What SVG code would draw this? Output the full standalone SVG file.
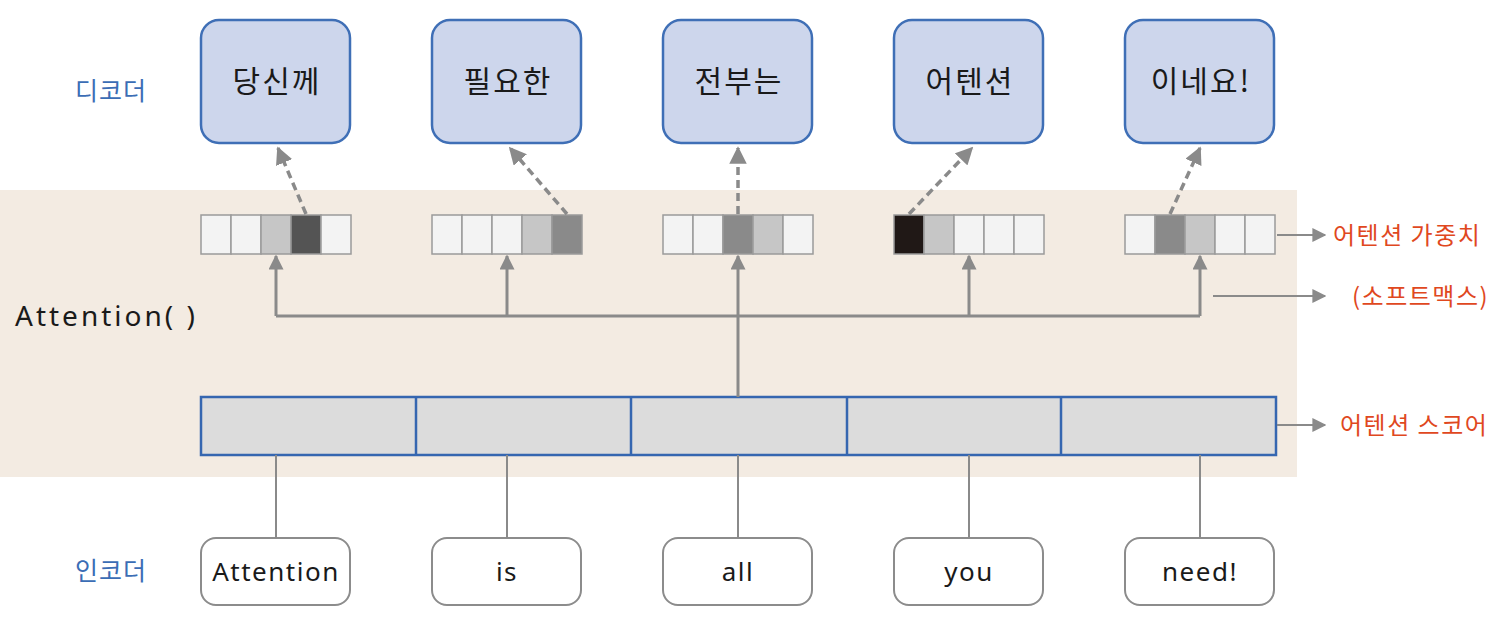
<svg xmlns="http://www.w3.org/2000/svg" width="1498" height="620" viewBox="0 0 1498 620">
<defs>
<marker id="ah" viewBox="0 0 10 10" refX="9" refY="5" markerWidth="5" markerHeight="5" orient="auto" markerUnits="strokeWidth"><path d="M0,0 L10,5 L0,10 z" fill="#8a8a8a"/></marker>
<marker id="ahs" viewBox="0 0 10 10" refX="9" refY="5" markerWidth="7" markerHeight="7" orient="auto" markerUnits="strokeWidth"><path d="M0,0 L10,5 L0,10 z" fill="#8a8a8a"/></marker>
</defs>
<style>
.dec rect{fill:#cdd6ec;stroke:#3f6fb6;stroke-width:2.5}
.enc rect{fill:#ffffff;stroke:#8c8c8c;stroke-width:2}
.kt{font-family:"Noto Sans CJK KR","Noto Sans",sans-serif;font-size:30px;letter-spacing:2px;fill:#1a1a1a;text-anchor:middle}
.et{font-family:"Noto Sans","Noto Sans CJK KR",sans-serif;font-size:26px;letter-spacing:1.5px;fill:#1a1a1a;text-anchor:middle}
.lab{font-family:"Noto Sans CJK KR",sans-serif;font-size:25px;letter-spacing:1px;fill:#3b6db5}
.red{font-family:"Noto Sans CJK KR",sans-serif;font-size:24px;letter-spacing:1.5px;fill:#e0481e}
.cell{stroke:#9a9a9a;stroke-width:1.5}
.c0{fill:#f3f3f3}.c1{fill:#c6c6c6}.c2{fill:#8a8a8a}.c3{fill:#545454}.c4{fill:#201816}
.dash{stroke:#8a8a8a;stroke-width:3.5;stroke-dasharray:8,5;fill:none;marker-end:url(#ah)}
.sol{stroke:#8a8a8a;stroke-width:3;fill:none}
.thin{stroke:#8a8a8a;stroke-width:2;fill:none}
.score rect{fill:#dcdcdc;stroke:#3566b0;stroke-width:2.5}
</style>
<rect x="0" y="190" width="1297" height="287" fill="#f3ebe2"/>

<text class="lab" x="75" y="100">디코더</text>
<text class="lab" x="75" y="580">인코더</text>
<text x="15" y="326" font-family="Noto Sans, sans-serif" font-size="28" letter-spacing="3" fill="#1a1a1a">Attention( )</text>

<g id="dec1" class="dec"><rect x="201" y="20" width="149" height="123" rx="18"/><text class="kt" x="277" y="92">당신께</text></g>
<g id="dec2" class="dec"><rect x="432" y="20" width="149" height="123" rx="18"/><text class="kt" x="508" y="92">필요한</text></g>
<g id="dec3" class="dec"><rect x="663" y="20" width="149" height="123" rx="18"/><text class="kt" x="739" y="92">전부는</text></g>
<g id="dec4" class="dec"><rect x="894" y="20" width="149" height="123" rx="18"/><text class="kt" x="970" y="92">어텐션</text></g>
<g id="dec5" class="dec"><rect x="1125" y="20" width="149" height="123" rx="18"/><text class="kt" x="1201" y="92">이네요!</text></g>

<g id="w1"><rect class="cell c0" x="201" y="215" width="30" height="39"/><rect class="cell c0" x="231" y="215" width="30" height="39"/><rect class="cell c1" x="261" y="215" width="30" height="39"/><rect class="cell c3" x="291" y="215" width="30" height="39"/><rect class="cell c0" x="321" y="215" width="30" height="39"/></g>
<g id="w2"><rect class="cell c0" x="432" y="215" width="30" height="39"/><rect class="cell c0" x="462" y="215" width="30" height="39"/><rect class="cell c0" x="492" y="215" width="30" height="39"/><rect class="cell c1" x="522" y="215" width="30" height="39"/><rect class="cell c2" x="552" y="215" width="30" height="39"/></g>
<g id="w3"><rect class="cell c0" x="663" y="215" width="30" height="39"/><rect class="cell c0" x="693" y="215" width="30" height="39"/><rect class="cell c2" x="723" y="215" width="30" height="39"/><rect class="cell c1" x="753" y="215" width="30" height="39"/><rect class="cell c0" x="783" y="215" width="30" height="39"/></g>
<g id="w4"><rect class="cell c4" x="894" y="215" width="30" height="39"/><rect class="cell c1" x="924" y="215" width="30" height="39"/><rect class="cell c0" x="954" y="215" width="30" height="39"/><rect class="cell c0" x="984" y="215" width="30" height="39"/><rect class="cell c0" x="1014" y="215" width="30" height="39"/></g>
<g id="w5"><rect class="cell c0" x="1125" y="215" width="30" height="39"/><rect class="cell c2" x="1155" y="215" width="30" height="39"/><rect class="cell c1" x="1185" y="215" width="30" height="39"/><rect class="cell c0" x="1215" y="215" width="30" height="39"/><rect class="cell c0" x="1245" y="215" width="30" height="39"/></g>

<g id="score" class="score">
<rect x="201" y="397" width="1075" height="58"/>
<line x1="416" y1="397" x2="416" y2="455" stroke="#3566b0" stroke-width="2.5"/>
<line x1="631" y1="397" x2="631" y2="455" stroke="#3566b0" stroke-width="2.5"/>
<line x1="847" y1="397" x2="847" y2="455" stroke="#3566b0" stroke-width="2.5"/>
<line x1="1061" y1="397" x2="1061" y2="455" stroke="#3566b0" stroke-width="2.5"/>
</g>

<g id="enc1" class="enc"><rect x="201" y="538" width="149" height="67" rx="15"/><text class="et" x="276" y="581">Attention</text></g>
<g id="enc2" class="enc"><rect x="432" y="538" width="149" height="67" rx="15"/><text class="et" x="507" y="581">is</text></g>
<g id="enc3" class="enc"><rect x="663" y="538" width="149" height="67" rx="15"/><text class="et" x="738" y="581">all</text></g>
<g id="enc4" class="enc"><rect x="894" y="538" width="149" height="67" rx="15"/><text class="et" x="969" y="581">you</text></g>
<g id="enc5" class="enc"><rect x="1125" y="538" width="149" height="67" rx="15"/><text class="et" x="1200" y="581">need!</text></g>

<g id="connectors">
<path class="dash" d="M306,214 L278,148"/>
<path class="dash" d="M567,214 L510,148"/>
<path class="dash" d="M738,214 L738,148"/>
<path class="dash" d="M909,214 L972,148"/>
<path class="dash" d="M1170,214 L1200,148"/>
<path class="sol" d="M738,397 L738,256" marker-end="url(#ah)"/>
<path class="sol" d="M276,316 L1200,316"/>
<path class="sol" d="M276,316 L276,256" marker-end="url(#ah)"/>
<path class="sol" d="M507,316 L507,256" marker-end="url(#ah)"/>
<path class="sol" d="M969,316 L969,256" marker-end="url(#ah)"/>
<path class="sol" d="M1200,316 L1200,256" marker-end="url(#ah)"/>
<path class="thin" d="M276,455 L276,538"/>
<path class="thin" d="M507,455 L507,538"/>
<path class="thin" d="M738,455 L738,538"/>
<path class="thin" d="M969,455 L969,538"/>
<path class="thin" d="M1200,455 L1200,538"/>
<path class="thin" d="M1277,235 L1325,235" marker-end="url(#ahs)"/>
<path class="thin" d="M1213,296 L1325,296" marker-end="url(#ahs)"/>
<path class="thin" d="M1277,425 L1325,425" marker-end="url(#ahs)"/>
</g>

<text class="red" x="1333" y="244">어텐션 가중치</text>
<text class="red" x="1352" y="305">(소프트맥스)</text>
<text class="red" x="1340" y="434">어텐션 스코어</text>
</svg>
